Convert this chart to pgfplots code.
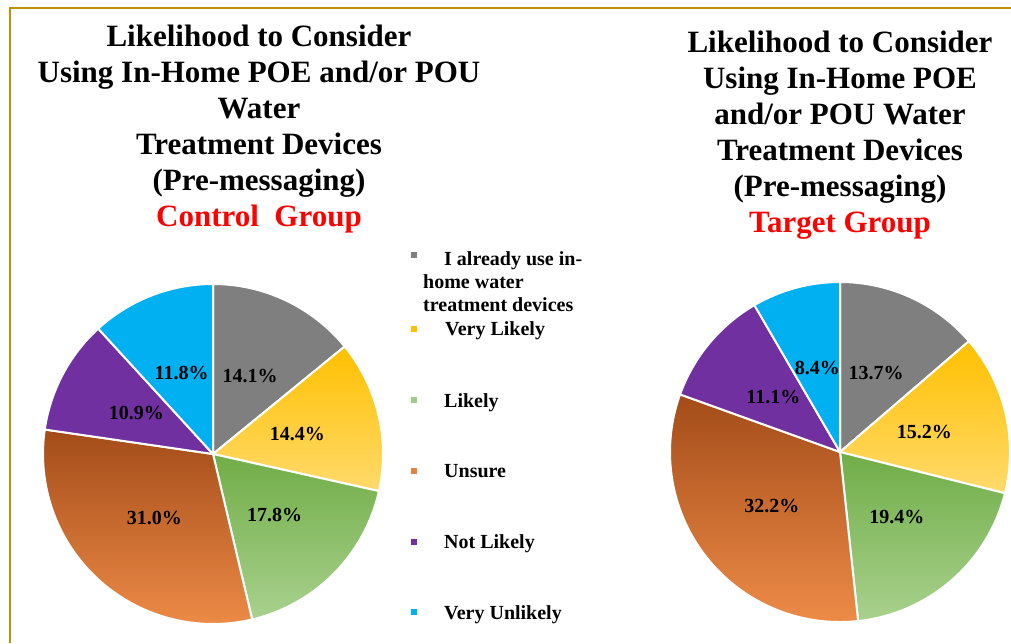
\documentclass[border=0pt]{standalone}
\usepackage{pgfplots}
\usepackage{pgfplotstable}
\pgfplotsset{compat=1.18}
\usepackage{fontspec}
\setmainfont{Liberation Serif}

\definecolor{cgray}{HTML}{7F7F7F}
\definecolor{cyeltop}{HTML}{FFC000}
\definecolor{cyelbot}{HTML}{FFDA6C}
\definecolor{cgrntop}{HTML}{70AD47}
\definecolor{cgrnbot}{HTML}{A9D18E}
\definecolor{corgtop}{HTML}{A34C19}
\definecolor{corgbot}{HTML}{F08D49}
\definecolor{cpur}{HTML}{7030A0}
\definecolor{cblu}{HTML}{00B0F0}
\definecolor{cframe}{HTML}{BF9000}

% share of each answer, clockwise from 12 o'clock
\pgfplotstableread{
value top bot
14.1 cgray cgray
14.4 cyeltop cyelbot
17.8 cgrntop cgrnbot
31.0 corgtop corgbot
10.9 cpur cpur
11.8 cblu cblu
}\controldata

\pgfplotstableread{
value top bot
13.7 cgray cgray
15.2 cyeltop cyelbot
19.4 cgrntop cgrnbot
32.2 corgtop corgbot
11.1 cpur cpur
8.4 cblu cblu
}\targetdata

\newcommand{\pieR}{170}
\newcommand{\drawpie}[3]{%
  \pgfplotstablegetrowsof{#1}%
  \pgfmathtruncatemacro\nrows{\pgfplotsretval-1}%
  \gdef\cumang{90}%
  \foreach \i in {0,...,\nrows}{%
    \pgfplotstablegetelem{\i}{value}\of#1\let\val\pgfplotsretval
    \pgfplotstablegetelem{\i}{top}\of#1\let\ctop\pgfplotsretval
    \pgfplotstablegetelem{\i}{bot}\of#1\let\cbot\pgfplotsretval
    \pgfmathsetmacro\aend{\cumang-3.6*\val}%
    \pgfmathsetmacro\amid{\cumang-1.8*\val}%
    \pgfmathsetmacro\lr{0.51*\pieR}%
    \shadedraw[top color=\ctop, bottom color=\cbot, draw=white, line width=2pt, line join=round]
      (axis cs:#2,#3) -- ++(\cumang:\pieR pt)
      arc[start angle=\cumang, end angle=\aend, radius=\pieR pt] -- cycle;
    \path (axis cs:#2,#3) ++(\amid:\lr pt)
      node[font=\fontsize{20}{23}\selectfont\bfseries, inner sep=0pt] {\val\%};
    \xdef\cumang{\aend}%
  }%
}

\begin{document}
\begin{tikzpicture}
\begin{axis}[
    at={(0,0)}, anchor=south west,
    x=1pt, y=1pt,
    xmin=0, xmax=1011, ymin=0, ymax=643,
    y dir=reverse,
    hide axis,
    clip=false,
]
\pgfplotsextra{%
  \drawpie{\controldata}{213}{454}%
  \drawpie{\targetdata}{840}{452}%
}

% frame
\draw[cframe, line width=2.2pt] (axis cs:10.3,643) -- (axis cs:10.3,7.7) -- (axis cs:1011,7.7);

% titles
\node[anchor=north, align=center, inner sep=0pt, font=\fontsize{31}{36}\selectfont\bfseries]
  at (axis cs:259,25) {Likelihood to Consider\\Using In-Home POE and/or POU\\Water\\Treatment Devices\\(Pre-messaging)\\\textcolor{red}{Control~~Group}};
\node[anchor=north, align=center, inner sep=0pt, font=\fontsize{31}{36}\selectfont\bfseries]
  at (axis cs:840,31) {Likelihood to Consider\\Using In-Home POE\\and/or POU Water\\Treatment Devices\\(Pre-messaging)\\\textcolor{red}{Target Group}};

% legend
\fill[cgray] (axis cs:411,252) rectangle (axis cs:417,258);
\fill[cyeltop] (axis cs:411,326) rectangle (axis cs:417,332);
\fill[cgrnbot!85!cgrntop] (axis cs:411,397) rectangle (axis cs:417,403);
\fill[corgbot!85!corgtop] (axis cs:411,468) rectangle (axis cs:417,474);
\fill[cpur] (axis cs:411,539) rectangle (axis cs:417,545);
\fill[cblu] (axis cs:411,609) rectangle (axis cs:417,615);
\begin{scope}[every node/.style={anchor=base west, inner sep=0pt, font=\fontsize{20}{23}\selectfont\bfseries}]
\node at (axis cs:444,265) {I already use in-};
\node at (axis cs:423,288) {home water};
\node at (axis cs:423,311) {treatment devices};
\node at (axis cs:445,335) {Very Likely};
\node at (axis cs:444,407) {Likely};
\node at (axis cs:444,477) {Unsure};
\node at (axis cs:444,548) {Not Likely};
\node at (axis cs:444,619) {Very Unlikely};
\end{scope}
\end{axis}
\pgfresetboundingbox
\path[use as bounding box] (0,0) rectangle (1011pt,643pt);
\end{tikzpicture}
\end{document}
